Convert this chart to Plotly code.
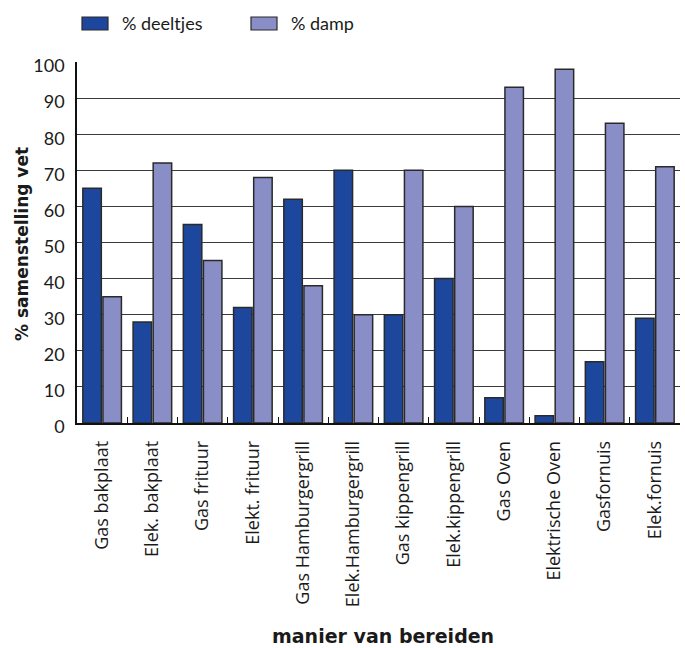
import plotly.graph_objects as go

categories = ["Gas bakplaat", "Elek. bakplaat", "Gas frituur", "Elekt. frituur",
              "Gas Hamburgergrill", "Elek.Hamburgergrill", "Gas kippengrill",
              "Elek.kippengrill", "Gas Oven", "Elektrische Oven", "Gasfornuis", "Elek.fornuis"]
deeltjes = [65, 28, 55, 32, 62, 70, 30, 40, 7, 2, 17, 29]
damp = [35, 72, 45, 68, 38, 30, 70, 60, 93, 98, 83, 71]
y_ticks = [0, 10, 20, 30, 40, 50, 60, 70, 80, 90, 100]

C1 = "#1c479c"
C2 = "#8a8ec6"
FONT = "Lato"
TFONT = "Open Sans"
BFONT = "DejaVu Sans"

fig = go.Figure()
fig.add_trace(go.Bar(x=categories, y=deeltjes, name="% deeltjes", marker_color=C1,
                     marker_line_color="#2a2a2a", marker_line_width=1.5, showlegend=False))
fig.add_trace(go.Bar(x=categories, y=damp, name="% damp", marker_color=C2,
                     marker_line_color="#2a2a2a", marker_line_width=1.5, showlegend=False))

fig.update_layout(
    width=685, height=648,
    margin=dict(l=77, r=5, t=62, b=225),
    plot_bgcolor="white", paper_bgcolor="white",
    barmode="group", bargap=0.2, bargroupgap=0.08,
    font=dict(family=FONT, color="#1a1a1a", size=16),
)
fig.update_yaxes(range=[0, 100], tickvals=y_ticks, showgrid=True, gridcolor="#3a3a3a",
                 gridwidth=1.4, showline=True, linecolor="#111", linewidth=1.5,
                 ticks="", tickfont=dict(size=18, family=FONT), ticklabelstandoff=7,
                 ticklabelshift=4, zeroline=False, fixedrange=True)
fig.update_xaxes(showline=True, linecolor="#111", linewidth=1.5, ticks="inside",
                 tickson="boundaries", ticklen=6, tickcolor="#111", tickwidth=1.2,
                 tickangle=-90, tickfont=dict(size=18, family=TFONT), ticklabelstandoff=9,
                 fixedrange=True)

# legend keys
for x0, col, label in [(82, C1, "% deeltjes"), (251, C2, "% damp")]:
    fig.add_shape(type="rect", xref="paper", yref="paper",
                  x0=(x0 - 77) / 603, x1=(x0 + 26 - 77) / 603,
                  y0=(423 - 30) / 361, y1=(423 - 17) / 361,
                  fillcolor=col, line=dict(color="#2a2a2a", width=1.2))
    fig.add_annotation(xref="paper", yref="paper", x=(x0 + 38 - 77) / 603, y=(423 - 23) / 361,
                       text=label, showarrow=False, xanchor="left", yanchor="middle",
                       font=dict(size=18, family=FONT, color="#1a1a1a"))

fig.add_annotation(xref="paper", yref="paper", x=(22 - 77) / 603, y=(423 - 244) / 361,
                   text="<b>% samenstelling vet</b>", textangle=-90, showarrow=False,
                   xanchor="center", yanchor="middle", font=dict(size=17, family=BFONT))
fig.add_annotation(xref="paper", yref="paper", x=(383 - 77) / 603, y=(423 - 636) / 361,
                   text="<b>manier van bereiden</b>", showarrow=False,
                   xanchor="center", yanchor="middle", font=dict(size=19, family=BFONT))

fig.write_html("out.html")
